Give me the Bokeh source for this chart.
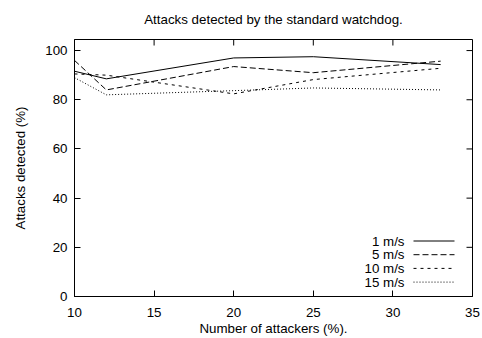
import math
from bokeh.plotting import figure
from bokeh.models import FixedTicker, Range1d, Label, Arrow
from bokeh.embed import file_html
from bokeh.resources import INLINE

# ---- data ----
attackers = [10, 12, 20, 25, 33]
speed_1 = [91.6, 88.5, 97.0, 97.5, 94.3]
speed_5 = [96.0, 84.0, 93.5, 91.0, 95.7]
speed_10 = [90.5, 90.0, 82.4, 88.2, 92.8]
speed_15 = [89.0, 82.0, 83.7, 84.8, 84.0]
series_labels = ["1 m/s", "5 m/s", "10 m/s", "15 m/s"]
x_ticks = [10, 15, 20, 25, 30, 35]
y_ticks = [0, 20, 40, 60, 80, 100]
title_text = "Attacks detected by the standard watchdog."

FONT = "Liberation Sans"
FS = "10pt"

p = figure(width=482, height=338, output_backend="svg", toolbar_location=None,
           x_range=Range1d(10, 35), y_range=Range1d(0, 104.5), title=title_text,
           min_border_left=74, min_border_right=10, min_border_top=39, min_border_bottom=42,
           background_fill_color="white", border_fill_color="white")

p.title.text_font = FONT
p.title.text_font_size = FS
p.title.text_font_style = "normal"
p.title.align = "center"
p.title.text_color = "black"
p.title.vertical_align = "top"
p.title.text_line_height = 0.7
p.title.standoff = 22

p.grid.visible = False
p.outline_line_color = "black"
p.outline_line_width = 1
p.outline_line_alpha = 1

for ax in [p.xaxis[0], p.yaxis[0]]:
    ax.major_tick_in = 6
    ax.major_tick_out = 0
    ax.minor_tick_line_color = None
    ax.axis_line_color = "black"
    ax.major_tick_line_color = "black"
    ax.major_label_text_font = FONT
    ax.major_label_text_font_size = FS
    ax.major_label_text_color = "black"
    ax.axis_label_text_font = FONT
    ax.axis_label_text_font_size = FS
    ax.axis_label_text_font_style = "normal"
    ax.axis_label_text_color = "black"

p.xaxis[0].ticker = FixedTicker(ticks=x_ticks)
p.yaxis[0].ticker = FixedTicker(ticks=y_ticks)
p.xaxis[0].axis_label = "Number of attackers (%)."
p.yaxis[0].axis_label = "Attacks detected (%)"
p.xaxis[0].major_label_standoff = 11
p.xaxis[0].axis_label_standoff = 1
p.yaxis[0].major_label_standoff = 7
p.yaxis[0].axis_label_standoff = 14

# mirrored ticks on the top and right frame edges
p.ray(x=x_ticks, y=[p.y_range.end] * len(x_ticks), length=6, length_units="screen",
      angle=-math.pi / 2, line_color="black", line_width=1)
p.ray(x=[p.x_range.end] * len(y_ticks), y=y_ticks, length=6, length_units="screen",
      angle=math.pi, line_color="black", line_width=1)

series = [speed_1, speed_5, speed_10, speed_15]
dashes = ["solid", "6 3", "3 4", "1 2"]
for vals, d in zip(series, dashes):
    p.line(attackers, vals, line_color="black", line_width=1, line_dash=d)

# key (text right-aligned, sample line to its right), in screen units from frame bottom-left
key_text_x = 330
key_line_x0, key_line_x1 = 339, 380
key_row0 = 55.5
key_step = 13.7
for i, (lab, d) in enumerate(zip(series_labels, dashes)):
    yc = key_row0 - i * key_step
    p.add_layout(Label(x=key_text_x, y=yc, x_units="screen", y_units="screen", text=lab,
                       text_align="right", text_baseline="middle", text_font=FONT,
                       text_font_size=FS, text_color="black"))
    p.add_layout(Arrow(x_start=key_line_x0, y_start=yc, x_end=key_line_x1, y_end=yc,
                       start_units="screen", end_units="screen", start=None, end=None,
                       line_color="black", line_width=1, line_dash=d))

open("out.html", "w").write(file_html(p, INLINE))
